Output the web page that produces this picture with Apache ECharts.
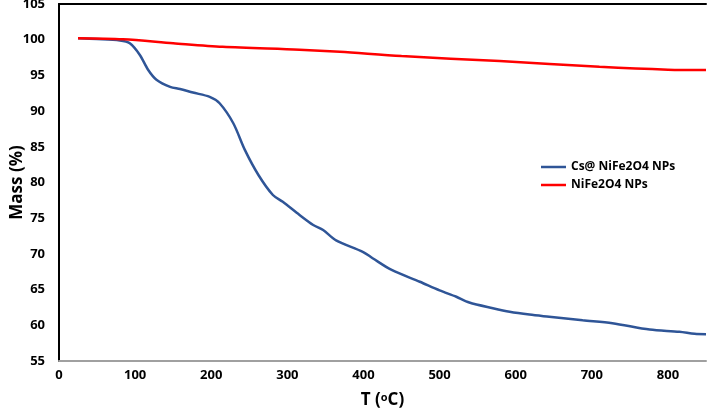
<!DOCTYPE html>
<html>
<head>
<meta charset="utf-8">
<script src="https://cdn.jsdelivr.net/npm/echarts@6/dist/echarts.min.js"></script>
<style>html,body{margin:0;padding:0;background:#fff}#c{width:708px;height:410px}</style>
</head>
<body>
<div id="c"></div>
<script>
const seriesNames = ['Cs@ NiFe2O4 NPs', 'NiFe2O4 NPs'];
const csT = [25, 50, 80, 93, 106, 117, 128, 146, 159, 176, 198, 211, 229, 244, 262, 281, 294, 316, 334, 347, 364, 399, 412, 437, 474, 500, 522, 539, 570, 592, 618, 644, 688, 727, 776, 815, 835, 850];
const csMass = [100.2, 100.1, 99.9, 99.5, 97.9, 95.8, 94.4, 93.4, 93.1, 92.6, 92.0, 91.1, 88.3, 84.6, 81.05, 78.25, 77.3, 75.45, 74.05, 73.35, 71.9, 70.3, 69.4, 67.75, 66.1, 64.9, 64.0, 63.2, 62.4, 61.9, 61.5, 61.2, 60.7, 60.3, 59.4, 59.1, 58.8, 58.75];
const nfT = [25, 84, 150, 215, 316, 369, 450, 579, 710, 800, 850];
const nfMass = [100.2, 100.05, 99.5, 99.0, 98.6, 98.3, 97.7, 97.0, 96.2, 95.8, 95.75];
const yTicks = {min: 55, max: 105, interval: 5};
const xTicks = {min: 0, max: 850, interval: 100};

const zip = (a, b) => a.map((v, i) => [v, b[i]]);
const font = 'Open Sans';
const chart = echarts.init(document.getElementById('c'));
chart.setOption({
  animation: false,
  backgroundColor: '#fff',
  grid: {left: 59, right: 2, top: 4, bottom: 49, containLabel: false, outerBoundsMode: 'none'},
  legend: {
    orient: 'vertical', left: 536, top: 155, itemGap: 4,
    itemWidth: 25, itemHeight: 2.5, icon: 'rect',
    textStyle: {fontFamily: font, fontWeight: 'bold', fontSize: 12, color: '#000', lineHeight: 14},
    data: seriesNames
  },
  xAxis: [{
    type: 'value', min: xTicks.min, max: xTicks.max, interval: xTicks.interval,
    axisLine: {show: true, lineStyle: {color: '#a0a0a0', width: 2}},
    axisTick: {show: false}, splitLine: {show: false},
    axisLabel: {showMaxLabel: false, margin: 8, fontFamily: font, fontWeight: 'bold', fontSize: 13, color: '#000'},
    name: '{a|T (}{b|o}{a|C)}', nameLocation: 'middle', nameGap: 31, nameMoveOverlap: false,
    nameTextStyle: {rich: {
      a: {fontFamily: font, fontWeight: 'bold', fontSize: 17, color: '#000'},
      b: {fontFamily: font, fontWeight: 'bold', fontSize: 11, color: '#000', verticalAlign: 'top', padding: [0, 0, 6, 0]}
    }}
  }, {
    type: 'value', position: 'top', min: xTicks.min, max: xTicks.max,
    axisLine: {show: true, lineStyle: {color: '#000', width: 2}},
    axisTick: {show: false}, axisLabel: {show: false}, splitLine: {show: false}
  }],
  yAxis: [{
    type: 'value', min: yTicks.min, max: yTicks.max, interval: yTicks.interval,
    axisLine: {show: true, lineStyle: {color: '#a0a0a0', width: 2}},
    axisTick: {show: false}, splitLine: {show: false},
    axisLabel: {margin: 14, fontFamily: font, fontWeight: 'bold', fontSize: 13, color: '#000'},
    name: 'Mass (%)', nameLocation: 'middle', nameGap: 33, nameMoveOverlap: false,
    nameTextStyle: {fontFamily: font, fontWeight: 'bold', fontSize: 17, color: '#000'}
  }, {
    type: 'value', position: 'right', min: yTicks.min, max: yTicks.max,
    axisLine: {show: true, lineStyle: {color: '#000', width: 2}},
    axisTick: {show: false}, axisLabel: {show: false}, splitLine: {show: false}
  }],
  series: [{
    name: seriesNames[0], type: 'line', data: zip(csT, csMass),
    symbol: 'none', smooth: 0.3, lineStyle: {color: '#2f5597', width: 2.5},
    itemStyle: {color: '#2f5597'}, z: 2
  }, {
    name: seriesNames[1], type: 'line', data: zip(nfT, nfMass),
    symbol: 'none', smooth: 0.3, lineStyle: {color: '#ff0000', width: 2.5},
    itemStyle: {color: '#ff0000'}, z: 3
  }]
});
</script>
</body>
</html>
